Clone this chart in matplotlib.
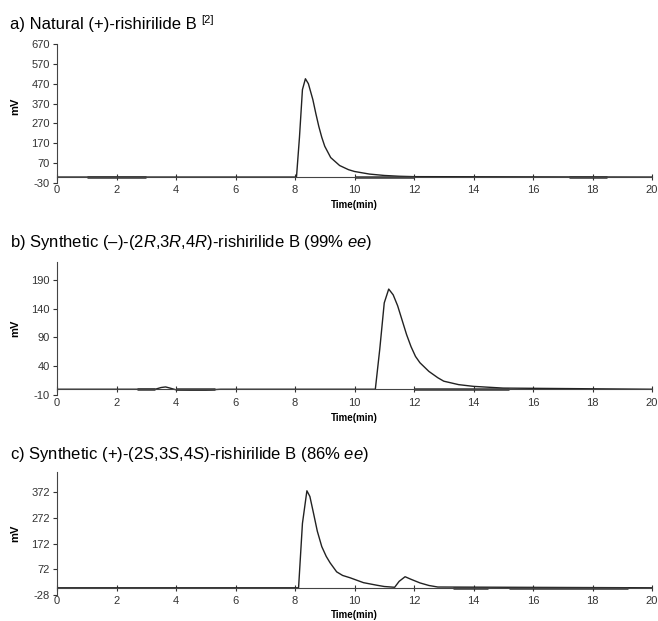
import matplotlib
matplotlib.use("Agg")
import matplotlib.pyplot as plt

plt.rcParams['font.family'] = ['Liberation Sans', 'DejaVu Sans']
plt.rcParams['mathtext.fontset'] = 'custom'
plt.rcParams['mathtext.rm'] = 'Liberation Sans'
plt.rcParams['mathtext.it'] = 'Liberation Sans:italic'
plt.rcParams['axes.unicode_minus'] = False

# ---- data ----
titles = [
    "a) Natural (+)-rishirilide B",
    "b) Synthetic (\u2013)-(2$\\mathit{R}$,3$\\mathit{R}$,4$\\mathit{R}$)-rishirilide B (99% $\\mathit{ee}$)",
    "c) Synthetic (+)-(2$\\mathit{S}$,3$\\mathit{S}$,4$\\mathit{S}$)-rishirilide B (86% $\\mathit{ee}$)",
]
title_ref = "[2]"

a_time = [0, 8.05, 8.15, 8.25, 8.35, 8.45, 8.6, 8.7, 8.8, 8.9, 9.0, 9.2, 9.5, 9.8, 10.0, 10.5, 11.0, 11.5, 12.0, 20]
a_mv   = [0, 0, 200, 440, 495, 470, 390, 320, 255, 200, 155, 98, 58, 37, 28, 15, 8, 4, 2, 0]

b_time = [0, 3.3, 3.5, 3.65, 3.8, 4.0, 4.5, 5.0, 5.5, 10.7, 10.85, 11.0, 11.15, 11.3, 11.45, 11.6,
          11.75, 11.9, 12.05, 12.2, 12.5, 12.8, 13.0, 13.5, 14.0, 15.0, 20]
b_mv   = [0, 0, 3, 4, 2, -1, -1.5, -1.5, 0, 0, 70, 150, 174, 164, 145, 120,
          95, 74, 57, 46, 31, 20, 14, 8, 5, 2, 0]

c_time = [0, 8.12, 8.25, 8.4, 8.5, 8.62, 8.75, 8.9, 9.05, 9.18, 9.4, 9.6, 9.85, 10.3, 10.75, 11.0, 11.35,
          11.5, 11.7, 11.9, 12.2, 12.5, 12.8, 20]
c_mv   = [0, 0, 250, 377, 355, 291, 220, 160, 122, 97, 62, 48, 39, 20, 10, 5, 2,
          25, 43, 33, 19, 9, 3, 0]

times = [a_time, b_time, c_time]
values = [a_mv, b_mv, c_mv]

# integration baseline segments (start, end) in min
a_segs = [(1.0, 3.0), (10.0, 12.0), (17.2, 18.5)]
b_segs = [(2.7, 3.3), (4.0, 5.3), (12.0, 15.2)]
c_segs = [(13.3, 14.5), (15.2, 19.2)]
segs = [a_segs, b_segs, c_segs]

y_ticks = [
    [-30, 70, 170, 270, 370, 470, 570, 670],
    [-10, 40, 90, 140, 190],
    [-28, 72, 172, 272, 372],
]
y_lims = [(-30, 670), (-10, 221), (-28, 450)]
x_ticks = list(range(0, 21, 2))

# ---- layout ----
W, H = 658, 621
fig = plt.figure(figsize=(W / 100, H / 100), dpi=100)

ax_px = [(44, 183), (262, 395), (472, 595)]   # (top, bottom) in pixels
left_px, right_px = 57, 652
title_y_px = [25, 242, 455]
xlabel_y_px = [205, 418, 615]

for i in range(3):
    top, bot = ax_px[i]
    ax = fig.add_axes([left_px / W, 1 - bot / H, (right_px - left_px) / W, (bot - top) / H])
    ax.plot(times[i], values[i], color='#222222', lw=1.0)
    for s, e in segs[i]:
        ax.plot([s, e], [0, 0], color='#333333', lw=1.8, solid_capstyle='butt')
    ax.set_xlim(0, 20)
    ax.set_ylim(*y_lims[i])
    ax.set_xticks(x_ticks)
    ax.set_yticks(y_ticks[i])
    ax.spines['top'].set_visible(False)
    ax.spines['right'].set_visible(False)
    ax.spines['bottom'].set_position(('data', 0))
    ax.spines['left'].set_color('#444444')
    ax.spines['bottom'].set_color('#444444')
    ax.tick_params(axis='x', direction='inout', length=4, width=0.8, labelsize=8,
                   pad=4, colors='#333333')
    ax.tick_params(axis='y', direction='out', length=3, width=0.8, labelsize=8,
                   pad=2, colors='#333333')
    ax.set_ylabel("mV", fontsize=8, fontweight='bold')
    ax.yaxis.set_label_coords(-0.062, 0.5 if i else 0.55)
    fig.text(0.5 * (left_px + right_px) / W, 1 - xlabel_y_px[i] / H, "Time(min)",
             ha='center', va='center', fontsize=7, fontweight='bold')
    fig.text(10 / W, 1 - title_y_px[i] / H, titles[i], fontsize=12, va='center', ha='left')

# superscript reference on title a
t = fig.texts[1]
fig.canvas.draw()
bb = t.get_window_extent()
fig.text((bb.x1 + 5) / W, 1 - (title_y_px[0] - 5) / H, title_ref, fontsize=8, va='center', ha='left')

fig.savefig("out.png", dpi=100)
